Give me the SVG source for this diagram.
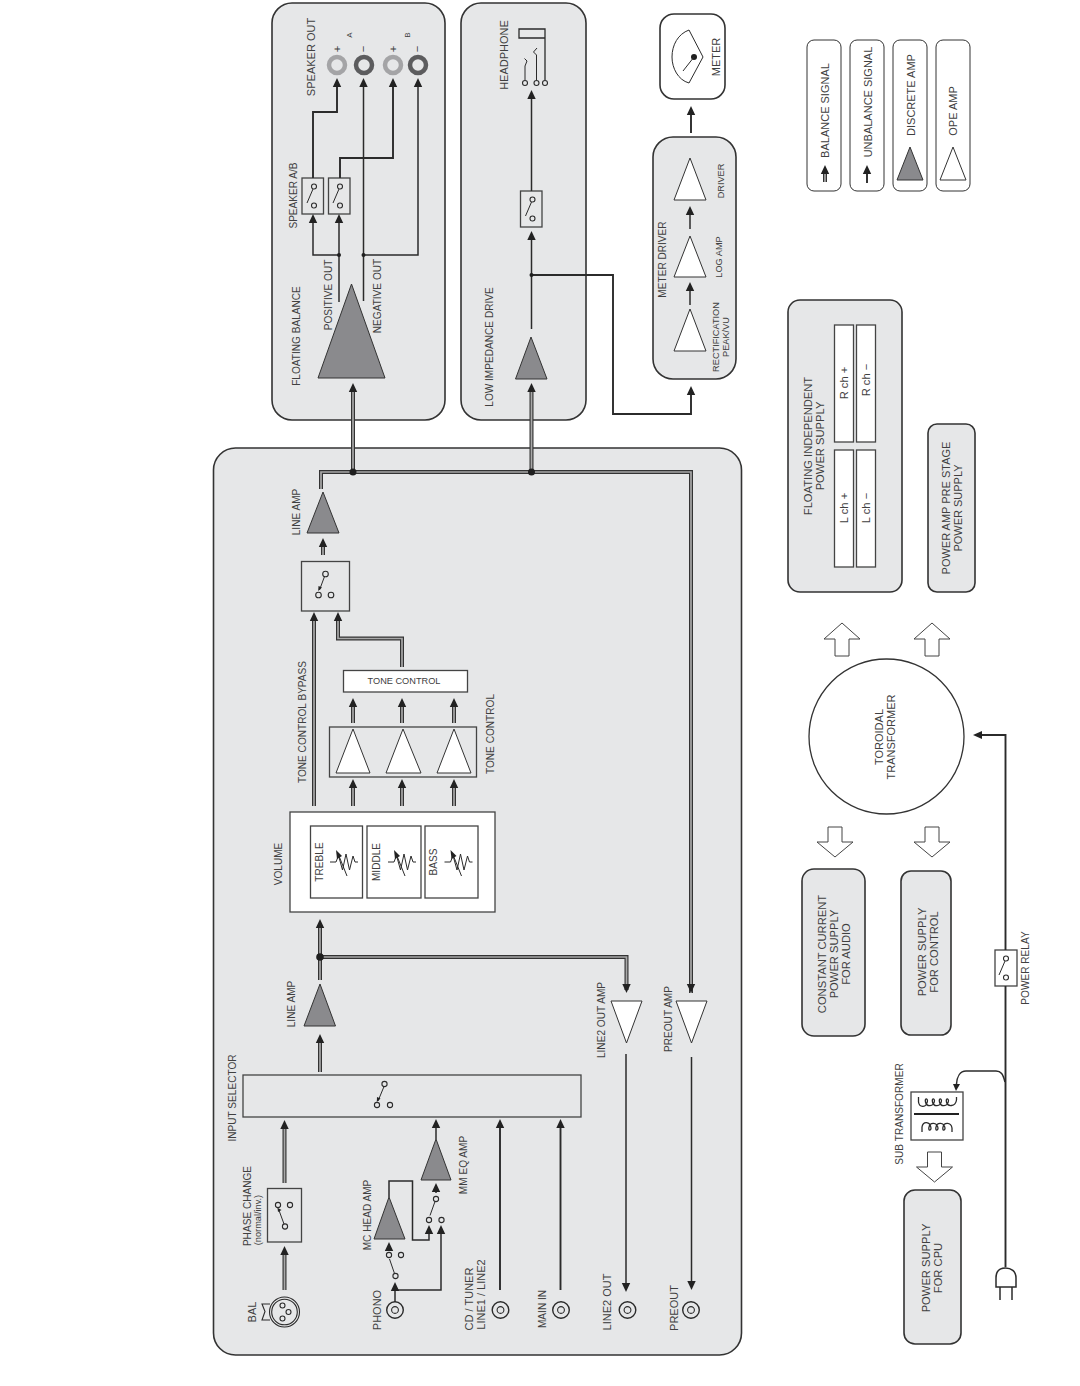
<svg xmlns="http://www.w3.org/2000/svg" width="1080" height="1386" viewBox="0 0 1080 1386">
<style>
text{font-family:"Liberation Sans",Arial,sans-serif;font-size:11.200px;fill:#404040;text-anchor:middle}
.s10{font-size:10.100px}.s9{font-size:9.200px}.s8{font-size:8px}.s11{font-size:11px}
.panel{fill:#e6e7e8;stroke:#333;stroke-width:1.600}
.wbox{fill:#fff;stroke:#444;stroke-width:1.300}
.gbox{fill:none;stroke:#444;stroke-width:1.300}
.disc{fill:#8a8a8d;stroke:#333;stroke-width:1}
.ope{fill:#fff;stroke:#333;stroke-width:1}
.ln{fill:none;stroke:#2b2b2b;stroke-width:1.500}
.th{fill:none;stroke:#2b2b2b;stroke-width:1.900}
.bo{fill:none;stroke:#333;stroke-width:4}
.bi{fill:none;stroke:#a8a8a8;stroke-width:1.700}
.dot{fill:#1f1f1f}
.c{fill:none;stroke:#2b2b2b;stroke-width:1.100}
.sw{fill:none;stroke:#2b2b2b;stroke-width:1}
.blk{fill:#222}
.bigarrow{fill:#fff;stroke:#444;stroke-width:1}
.leg{fill:#fff;stroke:#333;stroke-width:1}
</style>
<defs>
<polygon id="au" class="blk" points="0,0 -4.200,9 4.200,9"/>
<polygon id="ad" class="blk" points="0,0 -4.200,-9 4.200,-9"/>
<polygon id="al" class="blk" points="0,0 9,-4 9,4"/>
<g id="jack"><circle r="8.300" fill="none" stroke="#2b2b2b" stroke-width="1.400"/><circle r="3.400" class="c"/></g>
<g id="res"><path class="sw" d="M-14,0H-8L-5.500,-6.500L-1.500,8L2,-8L5.500,8L9,-6L11,0H14"/><path class="sw" d="M3,14L-5,-6"/><polygon class="blk" points="-8,-12 -2,-6 -7,-3"/></g>
<path id="upa" class="bigarrow" d="M-7,33V16H-18L0,0L18,16H7V33Z"/>
<path id="dna" class="bigarrow" d="M-7,0V15H-18L0,30L18,15H7V0Z"/>
<g id="swv"><circle cx="1" cy="-9.500" r="2.500" class="c"/><circle cx="1" cy="9.500" r="2.500" class="c"/><path class="sw" d="M0,-7L-6,7"/></g>
<g id="bal">
<path d="M353,388V472"/>
<path d="M531.500,388V472"/>
<path d="M321,489V472H691V993"/>
<path d="M323,555V545"/>
<path d="M314,806V620"/>
<path d="M402,667V638.500H338V620"/>
<path d="M353,706V723"/><path d="M402,706V723"/><path d="M454,706V723"/>
<path d="M353,787V806"/><path d="M402,787V806"/><path d="M454,787V806"/>
<path d="M320,1072V1043"/><path d="M320,926V980"/><path d="M320,957H626.500V990"/>
<path d="M284.500,1183V1128"/><path d="M284.500,1290V1254"/>
<path d="M825,182V172"/>
</g>
</defs>
<rect width="1080" height="1386" fill="#fff"/>

<g id="panel-main"><rect class="panel" x="213.500" y="448" width="528" height="907" rx="22"/></g>
<g id="panel-speaker"><rect class="panel" x="272" y="3" width="173" height="417" rx="20"/></g>
<g id="panel-headphone"><rect class="panel" x="461" y="3" width="125" height="417" rx="20"/></g>

<g id="floating-balance"><polygon class="disc" points="351.500,284 318,378 385,378"/>
<text class="s10" transform="translate(299.500,336) rotate(-90)">FLOATING BALANCE</text>
<text class="s10" transform="translate(331.500,295) rotate(-90)">POSITIVE OUT</text>
<text class="s10" transform="translate(380.500,296) rotate(-90)">NEGATIVE OUT</text></g>
<g id="speaker-ab">
<rect class="gbox" x="302" y="178" width="21.500" height="36"/><use href="#swv" x="313" y="196"/>
<rect class="gbox" x="328.500" y="178" width="21.500" height="36"/><use href="#swv" x="339" y="196"/>
<text class="s10" transform="translate(296.500,195.500) rotate(-90)">SPEAKER A/B</text></g>
<g id="speaker-out">
<text class="s11" transform="translate(315,57) rotate(-90)">SPEAKER OUT</text>
<circle cx="337" cy="65" r="8" fill="none" stroke="#a4a4a6" stroke-width="4.500"/>
<circle cx="364" cy="65" r="8" fill="none" stroke="#5c5c5e" stroke-width="4.500"/>
<circle cx="393" cy="65" r="8" fill="none" stroke="#a4a4a6" stroke-width="4.500"/>
<circle cx="418" cy="65" r="8" fill="none" stroke="#5c5c5e" stroke-width="4.500"/>
<text transform="translate(340.500,49) rotate(-90)">+</text>
<text transform="translate(367,49) rotate(-90)">−</text>
<text transform="translate(396.500,49) rotate(-90)">+</text>
<text transform="translate(421,49) rotate(-90)">−</text>
<text class="s8" transform="translate(351.500,35) rotate(-90)">A</text>
<text class="s8" transform="translate(409.500,35) rotate(-90)">B</text></g>

<g id="low-impedance"><polygon class="disc" points="531,337 515.500,379 547,379"/>
<text class="s10" transform="translate(492.500,347) rotate(-90)">LOW IMPEDANCE DRIVE</text></g>
<g id="hp-switch"><rect class="gbox" x="520.500" y="191" width="21.500" height="36"/><use href="#swv" x="531.500" y="209"/></g>
<g id="headphone">
<text class="s11" transform="translate(508,55) rotate(-90)">HEADPHONE</text>
<path d="M545,38H519V29H545V80" fill="none" stroke="#2b2b2b" stroke-width="1.300"/>
<path class="sw" d="M525,80V66L527,61L524.500,58.500"/>
<path class="sw" d="M536.500,80V55L533.500,52L537,48"/>
<circle class="c" cx="525" cy="83" r="2.500"/><circle class="c" cx="536.500" cy="83" r="2.500"/><circle class="c" cx="545" cy="83" r="2.500"/></g>

<g id="meter"><rect x="660" y="14" width="65" height="85" rx="14" fill="#fff" stroke="#333" stroke-width="1.600"/>
<path class="sw" d="M689,30L703,57L689,83C678,80 672,68 672,57C672,45 678,34 689,30Z"/>
<circle class="dot" cx="694" cy="57" r="3"/><path class="sw" d="M694,57L683,71"/>
<text class="s11" transform="translate(720,57) rotate(-90)">METER</text></g>
<g id="meter-driver"><rect class="panel" x="653" y="137" width="83" height="242" rx="20"/>
<polygon class="ope" points="690,158 674,200 706,200"/>
<polygon class="ope" points="690,236 674,277 706,277"/>
<polygon class="ope" points="690,309 674,351 706,351"/>
<text class="s10" transform="translate(665.500,259.500) rotate(-90)">METER DRIVER</text>
<text class="s9" transform="translate(723.500,181) rotate(-90)">DRIVER</text>
<text class="s9" transform="translate(721.500,257) rotate(-90)">LOG AMP</text>
<text class="s9" transform="translate(719,337) rotate(-90)">RECTIFICATION</text>
<text class="s9" transform="translate(729,337) rotate(-90)">PEAK/VU</text></g>

<g id="legend">
<rect class="leg" x="807" y="40" width="34" height="151" rx="7"/>
<rect class="leg" x="850" y="40" width="34" height="151" rx="7"/>
<rect class="leg" x="893" y="40" width="34" height="151" rx="7"/>
<rect class="leg" x="936" y="40" width="34" height="151" rx="7"/>
<text class="s11" transform="translate(829,110.500) rotate(-90)">BALANCE SIGNAL</text>
<text class="s11" transform="translate(872,102) rotate(-90)">UNBALANCE SIGNAL</text>
<text class="s11" transform="translate(915,95) rotate(-90)">DISCRETE AMP</text>
<text class="s11" transform="translate(957,111) rotate(-90)">OPE AMP</text>
<polygon class="disc" points="910,147 897,180 923,180"/>
<polygon class="ope" points="953,147 940,180 966,180"/></g>

<g id="floating-supply"><rect class="panel" x="788" y="300" width="114" height="292" rx="12"/>
<rect class="wbox" x="834.500" y="325" width="19" height="117"/><rect class="wbox" x="856.500" y="325" width="19" height="117"/>
<rect class="wbox" x="834.500" y="450" width="19" height="117"/><rect class="wbox" x="856.500" y="450" width="19" height="117"/>
<text transform="translate(811.500,446) rotate(-90)">FLOATING INDEPENDENT</text>
<text transform="translate(823.500,446) rotate(-90)">POWER SUPPLY</text>
<text transform="translate(847.500,383) rotate(-90)">R ch +</text><text transform="translate(869.500,380) rotate(-90)">R ch −</text>
<text transform="translate(847.500,508) rotate(-90)">L ch +</text><text transform="translate(869.500,508) rotate(-90)">L ch −</text></g>
<g id="preamp-supply"><rect class="panel" x="928" y="424" width="47" height="168" rx="9"/>
<text class="s11" transform="translate(949.500,508) rotate(-90)">POWER AMP PRE STAGE</text>
<text class="s11" transform="translate(961.500,508) rotate(-90)">POWER SUPPLY</text></g>
<g id="toroidal"><circle cx="886.500" cy="736.500" r="77.500" fill="#fff" stroke="#333" stroke-width="1.300"/>
<text class="s11" transform="translate(883,737) rotate(-90)">TOROIDAL</text>
<text class="s11" transform="translate(895,737) rotate(-90)">TRANSFORMER</text>
<use href="#upa" x="842" y="623"/><use href="#upa" x="932" y="623"/>
<use href="#dna" x="835" y="827"/><use href="#dna" x="932" y="827"/></g>
<g id="supply-audio"><rect class="panel" x="802" y="869" width="63" height="167" rx="12"/>
<text transform="translate(825.500,954) rotate(-90)">CONSTANT CURRENT</text>
<text transform="translate(837.500,954) rotate(-90)">POWER SUPPLY</text>
<text transform="translate(849.500,954) rotate(-90)">FOR AUDIO</text></g>
<g id="supply-control"><rect class="panel" x="901" y="871" width="50" height="164" rx="10"/>
<text transform="translate(925.500,952) rotate(-90)">POWER SUPPLY</text>
<text transform="translate(937.500,952) rotate(-90)">FOR CONTROL</text></g>
<g id="power-relay"><rect class="gbox" x="995" y="950" width="22" height="36"/><use href="#swv" x="1005" y="968"/>
<text class="s10" transform="translate(1029,968) rotate(-90)">POWER RELAY</text></g>
<g id="sub-transformer"><rect class="gbox" x="911" y="1092" width="52" height="48"/>
<path fill="none" stroke="#2b2b2b" stroke-width="1.300" d="M918.500,1097V1102c1,6 8,6 9,-1c0,-3 -3,-3 -2,1c1,5 8,5 9,-1c0,-3 -3,-3 -2,1c1,5 8,5 9,-1c0,-3 -3,-3 -2,1c1,5 8,5 9,-1c0,-3 -3,-3 -2,1c1,5 9,5 10,-2V1097"/>
<path d="M914,1114H959" fill="none" stroke="#222" stroke-width="1.800"/>
<path fill="none" stroke="#2b2b2b" stroke-width="1.300" d="M922,1132V1127c1,-6 8,-6 9,1c0,3 -3,3 -2,-1c1,-5 8,-5 9,1c0,3 -3,3 -2,-1c1,-5 8,-5 9,1c0,3 -3,3 -2,-1c1,-5 8,-5 9,1V1132"/>
<text class="s10" transform="translate(902.500,1114) rotate(-90)">SUB TRANSFORMER</text>
<use href="#dna" x="934.500" y="1152"/></g>
<g id="supply-cpu"><rect class="panel" x="904" y="1190" width="57" height="154" rx="11"/>
<text transform="translate(929.500,1268) rotate(-90)">POWER SUPPLY</text>
<text transform="translate(941.500,1268) rotate(-90)">FOR CPU</text></g>
<g id="plug"><path d="M996,1287V1278C996,1271 1000,1268 1005.500,1268C1011,1268 1016,1271 1016,1278V1287Z" fill="#fff" stroke="#2b2b2b" stroke-width="1.500"/>
<path class="ln" d="M1000,1287V1300M1012,1287V1300"/></g>

<g id="line-amp-out"><polygon class="disc" points="323,492 307,533 339,533"/>
<text class="s10" transform="translate(299.500,512) rotate(-90)">LINE AMP</text></g>
<g id="bypass-switch"><rect class="gbox" x="301.500" y="561.500" width="48" height="49.500"/>
<circle class="c" cx="325.500" cy="574" r="2.800"/><circle class="c" cx="318.500" cy="595" r="2.800"/><circle class="c" cx="331" cy="595" r="2.800"/>
<path class="sw" d="M324.500,576.500L319.500,590"/><polygon class="blk" points="318.200,591 318.500,586 322,587.500"/>
<text class="s10" transform="translate(306,722) rotate(-90)">TONE CONTROL BYPASS</text></g>
<g id="tone-control-box"><rect class="wbox" x="343.500" y="670.500" width="124" height="21.500"/>
<text class="s9" x="404" y="684">TONE CONTROL</text></g>
<g id="tone-amps"><rect class="gbox" x="329.500" y="727" width="147" height="50"/>
<polygon class="ope" points="353,729 336,773 370,773"/><polygon class="ope" points="403,729 386,773 421,773"/><polygon class="ope" points="454,729 437,773 471,773"/>
<text class="s10" transform="translate(493.500,734) rotate(-90)">TONE CONTROL</text></g>
<g id="volume"><rect class="wbox" x="290" y="812" width="205" height="100"/>
<rect class="wbox" x="310.500" y="826" width="52" height="72"/><rect class="wbox" x="367" y="826" width="54" height="72"/><rect class="wbox" x="425" y="826" width="53" height="72"/>
<text class="s10" transform="translate(282,864) rotate(-90)">VOLUME</text>
<text class="s10" transform="translate(323,862) rotate(-90)">TREBLE</text><text class="s10" transform="translate(379.500,862) rotate(-90)">MIDDLE</text><text class="s10" transform="translate(437,862) rotate(-90)">BASS</text>
<use href="#res" x="344" y="862"/><use href="#res" x="402" y="862"/><use href="#res" x="458.500" y="862"/></g>
<g id="line-amp-in"><polygon class="disc" points="320,984 304,1026 335.500,1026"/>
<text class="s10" transform="translate(295,1004) rotate(-90)">LINE AMP</text></g>
<g id="line2-amp"><polygon class="ope" points="611,1001 642,1001 626.500,1043"/>
<text class="s10" transform="translate(604.500,1020) rotate(-90)">LINE2 OUT AMP</text></g>
<g id="preout-amp"><polygon class="ope" points="676,1001 707,1001 691.500,1043"/>
<text class="s10" transform="translate(671.500,1019) rotate(-90)">PREOUT AMP</text></g>
<g id="input-selector"><rect class="gbox" x="243" y="1075" width="338" height="42"/>
<circle class="c" cx="384.500" cy="1084" r="2.600"/><circle class="c" cx="377" cy="1105" r="2.600"/><circle class="c" cx="390" cy="1105" r="2.600"/>
<path class="sw" d="M384,1086.500L378,1101"/><polygon class="blk" points="376.800,1102 377,1097 380.500,1098.500"/>
<text class="s10" transform="translate(236,1098) rotate(-90)">INPUT SELECTOR</text></g>
<g id="phase-change"><rect class="gbox" x="267.500" y="1188.500" width="34" height="53.500"/>
<circle class="c" cx="278" cy="1205" r="2.600"/><circle class="c" cx="290" cy="1205" r="2.600"/><circle class="c" cx="285" cy="1226.500" r="2.600"/>
<path class="sw" d="M284,1224L278.500,1209"/><polygon class="blk" points="277.500,1207.800 281.500,1210 278,1212"/>
<text class="s10" transform="translate(251,1206) rotate(-90)">PHASE CHANGE</text>
<text class="s9" transform="translate(261,1220) rotate(-90)">(normal/inv.)</text></g>
<g id="bal-in"><circle class="c" cx="284.500" cy="1312" r="15"/><circle class="c" cx="284.500" cy="1312" r="12.800"/>
<circle class="c" cx="282.500" cy="1305.500" r="2.500"/><circle class="c" cx="288.500" cy="1312" r="2.500"/><circle class="c" cx="282.500" cy="1318.500" r="2.500"/>
<path class="c" d="M270,1304H262L265,1311.500L262,1320H270"/>
<text class="s11" transform="translate(256,1312) rotate(-90)">BAL</text></g>
<g id="mc-head"><polygon class="disc" points="389,1197 374,1239 405,1239"/>
<text class="s10" transform="translate(370.500,1215) rotate(-90)">MC HEAD AMP</text></g>
<g id="mm-eq"><polygon class="disc" points="436,1139 421,1180 451,1180"/>
<text class="s10" transform="translate(466.500,1165) rotate(-90)">MM EQ AMP</text></g>
<g id="phono-switch"><circle class="c" cx="389" cy="1255" r="2.600"/><circle class="c" cx="401" cy="1255" r="2.600"/><circle class="c" cx="395.500" cy="1276" r="2.600"/>
<path class="sw" d="M394.500,1273.500L389.500,1259"/></g>
<g id="mm-switch"><circle class="c" cx="429" cy="1220" r="2.600"/><circle class="c" cx="441.500" cy="1220" r="2.600"/><circle class="c" cx="436" cy="1199" r="2.600"/>
<path class="sw" d="M435,1201.500L430,1215.500"/></g>
<g id="phono"><use href="#jack" x="395" y="1310"/><text class="s11" transform="translate(380.500,1310) rotate(-90)">PHONO</text></g>
<g id="cd-tuner"><use href="#jack" x="500.500" y="1310"/>
<text class="s11" transform="translate(473,1299) rotate(-90)">CD / TUNER</text><text class="s11" transform="translate(485,1294.500) rotate(-90)">LINE1 / LINE2</text></g>
<g id="main-in"><use href="#jack" x="561" y="1310"/><text class="s10" transform="translate(545.500,1309) rotate(-90)">MAIN IN</text></g>
<g id="line2-out"><use href="#jack" x="627.500" y="1310"/><text class="s11" transform="translate(611,1302) rotate(-90)">LINE2 OUT</text></g>
<g id="preout"><use href="#jack" x="691" y="1310"/><text class="s11" transform="translate(677.500,1308) rotate(-90)">PREOUT</text></g>

<g id="connectors">
<use href="#bal" class="bo"/><use href="#bal" class="bi"/>
<g class="ln">
<path d="M339,302V222"/><path d="M339,255H313V222"/>
<path d="M363.500,301V85"/><path d="M363.500,255H418V85"/>
<path class="th" d="M313,178V112H337V85"/><path class="th" d="M340,178V158H393V85"/>
<path d="M531.500,329V235"/><path d="M531.500,191V97"/>
<path class="th" d="M531.500,275H613V414H691V393"/>
<path d="M690,229V214"/><path d="M690,305V290"/><path class="th" d="M691,133V114"/>
<path d="M436,1139V1126"/>
<path d="M436,1193V1190"/>
<path d="M389,1197V1181H412.500V1240H429V1233"/>
<path d="M395,1302V1290"/><path d="M395,1290H441V1232"/>
<path d="M389,1250V1250"/>
<path class="th" d="M500,1290V1126"/><path class="th" d="M560.500,1290V1126"/>
<path d="M626,1054V1285"/><path d="M691.500,1057V1285"/>
<path class="th" d="M867,183V172"/>
<path class="th" d="M1005.500,1267V986"/><path class="th" d="M1005.500,950V735H982"/>
<path d="M1005,1082C1003,1074 1001,1071 996,1071H966C960,1071 957,1077 956.500,1084"/>
</g>
<g id="arrowheads">
<use href="#au" x="353" y="383"/><use href="#au" x="531.500" y="383"/>
<use href="#au" x="339" y="214"/><use href="#au" x="313" y="214"/>
<use href="#au" x="337" y="78"/><use href="#au" x="363.500" y="78"/><use href="#au" x="393" y="78"/><use href="#au" x="418" y="78"/>
<use href="#au" x="531.500" y="231"/><use href="#au" x="531.500" y="90"/>
<use href="#au" x="691" y="386"/><use href="#au" x="690" y="206"/><use href="#au" x="690" y="282"/><use href="#au" x="691" y="106"/>
<use href="#au" x="323" y="538"/>
<use href="#au" x="314" y="612"/><use href="#au" x="338" y="612"/>
<use href="#au" x="353" y="698"/><use href="#au" x="402" y="698"/><use href="#au" x="454" y="698"/>
<use href="#au" x="353" y="779"/><use href="#au" x="402" y="779"/><use href="#au" x="454" y="779"/>
<use href="#au" x="320" y="919"/><use href="#au" x="320" y="1034"/>
<use href="#au" x="284.500" y="1120"/><use href="#au" x="284.500" y="1246"/>
<use href="#au" x="436" y="1119"/><use href="#au" x="500" y="1119"/><use href="#au" x="560.500" y="1119"/>
<use href="#au" x="436" y="1183"/><use href="#au" x="429" y="1225"/><use href="#au" x="441" y="1225"/>
<use href="#au" x="389" y="1242"/><use href="#au" x="395" y="1282"/>
<use href="#ad" x="626.500" y="993"/><use href="#ad" x="691" y="993"/>
<use href="#ad" x="626" y="1292"/><use href="#ad" x="691.500" y="1290"/>
<use href="#al" x="973" y="735"/>
<use href="#au" x="825" y="165"/><use href="#au" x="867" y="165"/>
<polygon class="blk" points="956,1091 953,1084 960,1084"/>
</g>
<g id="junctions">
<circle class="dot" cx="353" cy="472" r="3.500"/><circle class="dot" cx="531.500" cy="472" r="3.500"/>
<circle class="dot" cx="320" cy="957" r="3.800"/>
<circle class="dot" cx="339" cy="255" r="2"/><circle class="dot" cx="363.500" cy="255" r="2"/>
<circle class="dot" cx="531.500" cy="275" r="2"/>
</g>
</g>
</svg>
